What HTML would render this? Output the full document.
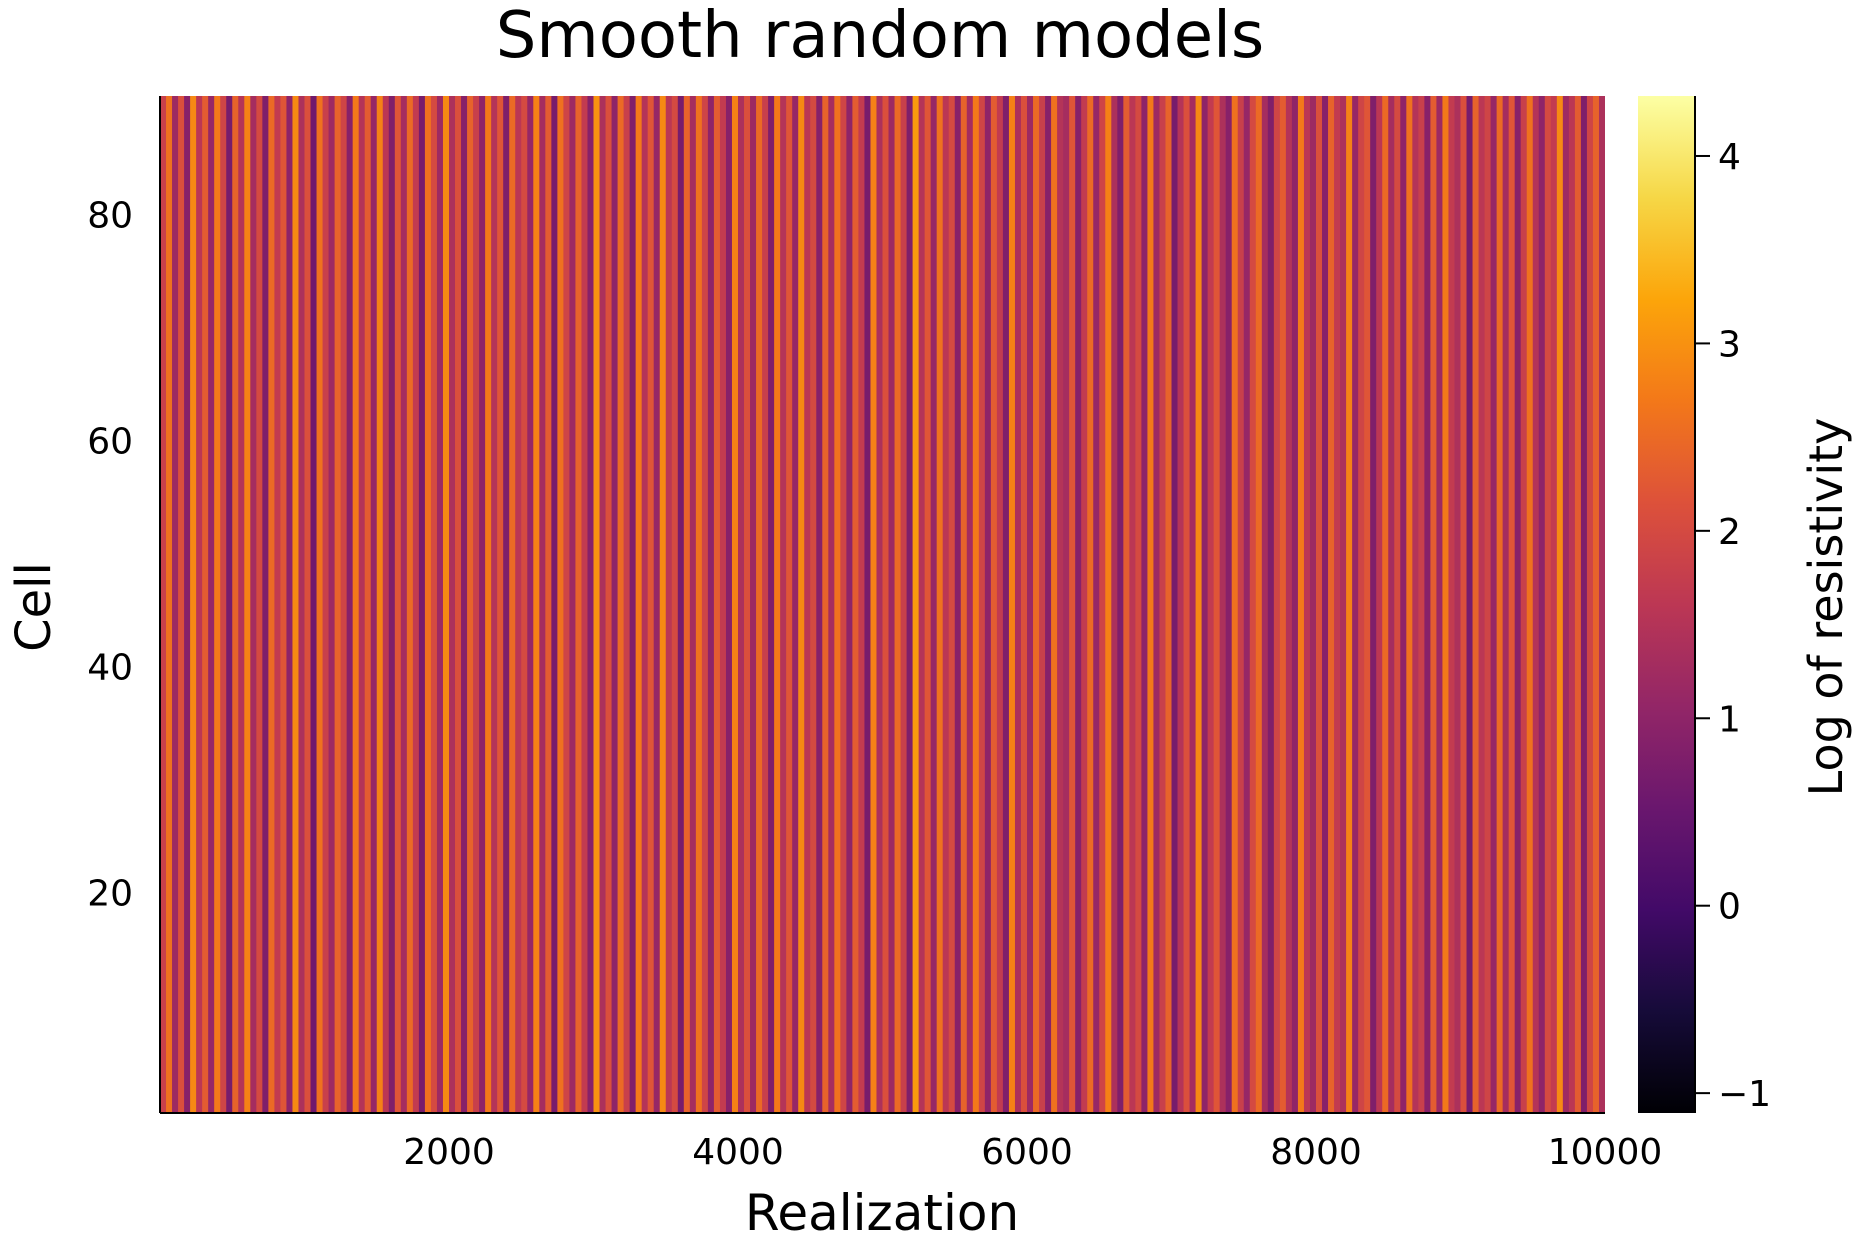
<!DOCTYPE html>
<html><head><meta charset="utf-8"><style>
body{margin:0;background:#fff;}
svg{display:block;font-family:"DejaVu Sans","Liberation Sans",sans-serif;}
</style></head><body>
<svg id="chart" width="1875" height="1250">
<defs>
<linearGradient id="inferno" x1="0" y1="1" x2="0" y2="0">
<stop offset="0" stop-color="#000004"/><stop offset="0.1" stop-color="#160b39"/><stop offset="0.2" stop-color="#420a68"/><stop offset="0.3" stop-color="#6a176e"/><stop offset="0.4" stop-color="#932667"/><stop offset="0.5" stop-color="#bc3754"/><stop offset="0.6" stop-color="#dd513a"/><stop offset="0.7" stop-color="#f37819"/><stop offset="0.8" stop-color="#fca50a"/><stop offset="0.9" stop-color="#f6d746"/><stop offset="1" stop-color="#fcffa4"/>
</linearGradient>
<clipPath id="plotclip"><rect x="160" y="96" width="1445" height="1017"/></clipPath>
</defs>
<text x="880" y="57" text-anchor="middle" font-size="64">Smooth random models</text>
<g id="heat" clip-path="url(#plotclip)"></g>
<g id="axes"></g>
<rect x="1638" y="96" width="56" height="1017" fill="url(#inferno)"/>
<line x1="1695" y1="96" x2="1695" y2="1113" stroke="#000" stroke-width="2"/>
<g id="cbticks"></g>
<text x="882" y="1230" text-anchor="middle" font-size="50">Realization</text>
<text transform="translate(50,607) rotate(-90)" text-anchor="middle" font-size="48">Cell</text>
<text transform="translate(1842,607) rotate(-90)" text-anchor="middle" font-size="46">Log of resistivity</text>
</svg>
<script>
const colValues = [1.8,2.6,1.2,2.1,0.9,2.9,1.6,2.3,1.1,2.7,1.9,0.7,2.4,1.5,2.8,1.3,2.0,0.8,2.5,1.7,
2.2,1.0,2.9,1.4,2.1,0.6,2.6,1.8,1.2,2.4,1.9,0.9,2.7,1.5,2.3,1.1,2.8,1.6,0.8,2.2,
1.3,2.5,1.7,0.7,2.6,2.0,1.2,2.9,1.4,2.1,0.9,2.4,1.8,1.0,2.7,1.5,2.2,0.8,2.5,1.6,
2.0,1.1,2.8,1.3,2.3,0.7,2.6,1.9,1.2,2.4,1.7,0.9,3.0,1.4,2.1,1.0,2.5,1.8,0.8,2.7,
1.5,2.2,1.1,2.9,1.6,2.0,0.7,2.4,1.3,2.6,1.9,1.0,2.3,1.7,0.9,2.8,1.4,2.1,1.2,2.5,
1.8,0.8,2.7,1.5,2.2,1.1,2.9,1.6,2.0,0.9,2.4,1.3,2.6,1.9,1.0,2.3,1.7,0.7,2.8,1.4,
2.1,1.2,2.5,1.8,0.8,3.1,1.5,2.2,1.1,2.6,1.6,2.0,0.9,2.4,1.3,2.7,1.9,1.0,2.3,1.7,
0.8,2.8,1.4,2.1,1.2,2.5,1.8,0.9,2.6,1.5,1.3,2.2,0.9,1.7,2.5,1.1,1.9,2.8,1.4,0.8,
2.3,1.6,2.0,1.0,2.7,1.2,1.8,2.4,0.7,1.5,2.1,1.3,2.9,1.0,1.7,2.2,1.4,0.9,2.6,1.8,
1.1,2.0,2.5,1.3,0.8,1.9,2.3,1.5,1.0,2.7,1.6,1.2,2.1,0.9,2.4,1.7,1.4,2.8,1.1,1.9,
2.2,0.8,1.6,2.5,1.3,2.0,1.0,2.6,1.5,1.8,0.9,2.3,1.2,2.7,1.7,1.4,2.1,0.7,2.4,1.6,
1.9,1.1,2.5,1.3,2.2,0.9,1.8,2.6,1.5,1.0,2.0,1.7,2.9,1.2,1.6,2.3,0.8,1.9,2.4,1.4];
const xTicks = [2000,4000,6000,8000,10000];
const yTicks = [20,40,60,80];
const cbTicks = [-1,0,1,2,3,4];
const xMin=1, xMax=10000, yMin=0.5, yMax=90.5, cMin=-1.106, cMax=4.32;
const PL=160, PR=1605, PT=96, PB=1113;
const sx=v=>PL+(v-0)/(xMax)*(PR-PL);
const sy=v=>PB-(v-yMin)/(yMax-yMin)*(PB-PT);
const sc=v=>PB-(v-cMin)/(cMax-cMin)*(PB-PT);
const stops=[[0,0,0,4],[.1,22,11,57],[.2,66,10,104],[.3,106,23,110],[.4,147,38,103],[.5,188,55,84],[.6,221,81,58],[.7,243,120,25],[.8,252,165,10],[.9,246,215,70],[1,252,255,164]];
function cmap(v){let t=Math.max(0,Math.min(1,(v-cMin)/(cMax-cMin)));for(let i=1;i<stops.length;i++){if(t<=stops[i][0]){const a=stops[i-1],b=stops[i],f=(t-a[0])/(b[0]-a[0]);return `rgb(${[1,2,3].map(k=>Math.round(a[k]+f*(b[k]-a[k]))).join(',')})`;}}return 'rgb(252,255,164)';}
const NS='http://www.w3.org/2000/svg';
const heat=document.getElementById('heat');
const bw=xMax/colValues.length;
colValues.forEach((v,i)=>{
 const r=document.createElementNS(NS,'rect');
 const x0=sx(i*bw), x1=sx((i+1)*bw);
 r.setAttribute('x',x0);r.setAttribute('width',x1-x0+0.5);
 r.setAttribute('y',sy(yMax));r.setAttribute('height',sy(yMin)-sy(yMax));
 r.setAttribute('fill',cmap(v));
 
 
 heat.appendChild(r);
});
const axes=document.getElementById('axes');
function add(p,tag,attrs,text){const e=document.createElementNS(NS,tag);for(const k in attrs)e.setAttribute(k,attrs[k]);if(text!==undefined)e.textContent=text;p.appendChild(e);return e;}
add(axes,'line',{x1:PL,y1:PB,x2:PR,y2:PB,stroke:'#000','stroke-width':2});
add(axes,'line',{x1:PL,y1:PT,x2:PL,y2:PB,stroke:'#000','stroke-width':2});
xTicks.forEach(t=>{
 const e=add(axes,'text',{x:sx(t),y:1164,'text-anchor':'middle','font-size':36},String(t));
 
 
});
yTicks.forEach(t=>{
 const e=add(axes,'text',{x:133,y:sy(t)+13,'text-anchor':'end','font-size':36},String(t));
 
 
});
const cbt=document.getElementById('cbticks');
cbTicks.forEach(t=>{
 add(cbt,'line',{x1:1695,y1:sc(t),x2:1710,y2:sc(t),stroke:'#000','stroke-width':2});
 const e=add(cbt,'text',{x:1718,y:sc(t)+13,'font-size':36},t<0?'\u2212'+(-t):String(t));
 
 
});
</script>
</body></html>
